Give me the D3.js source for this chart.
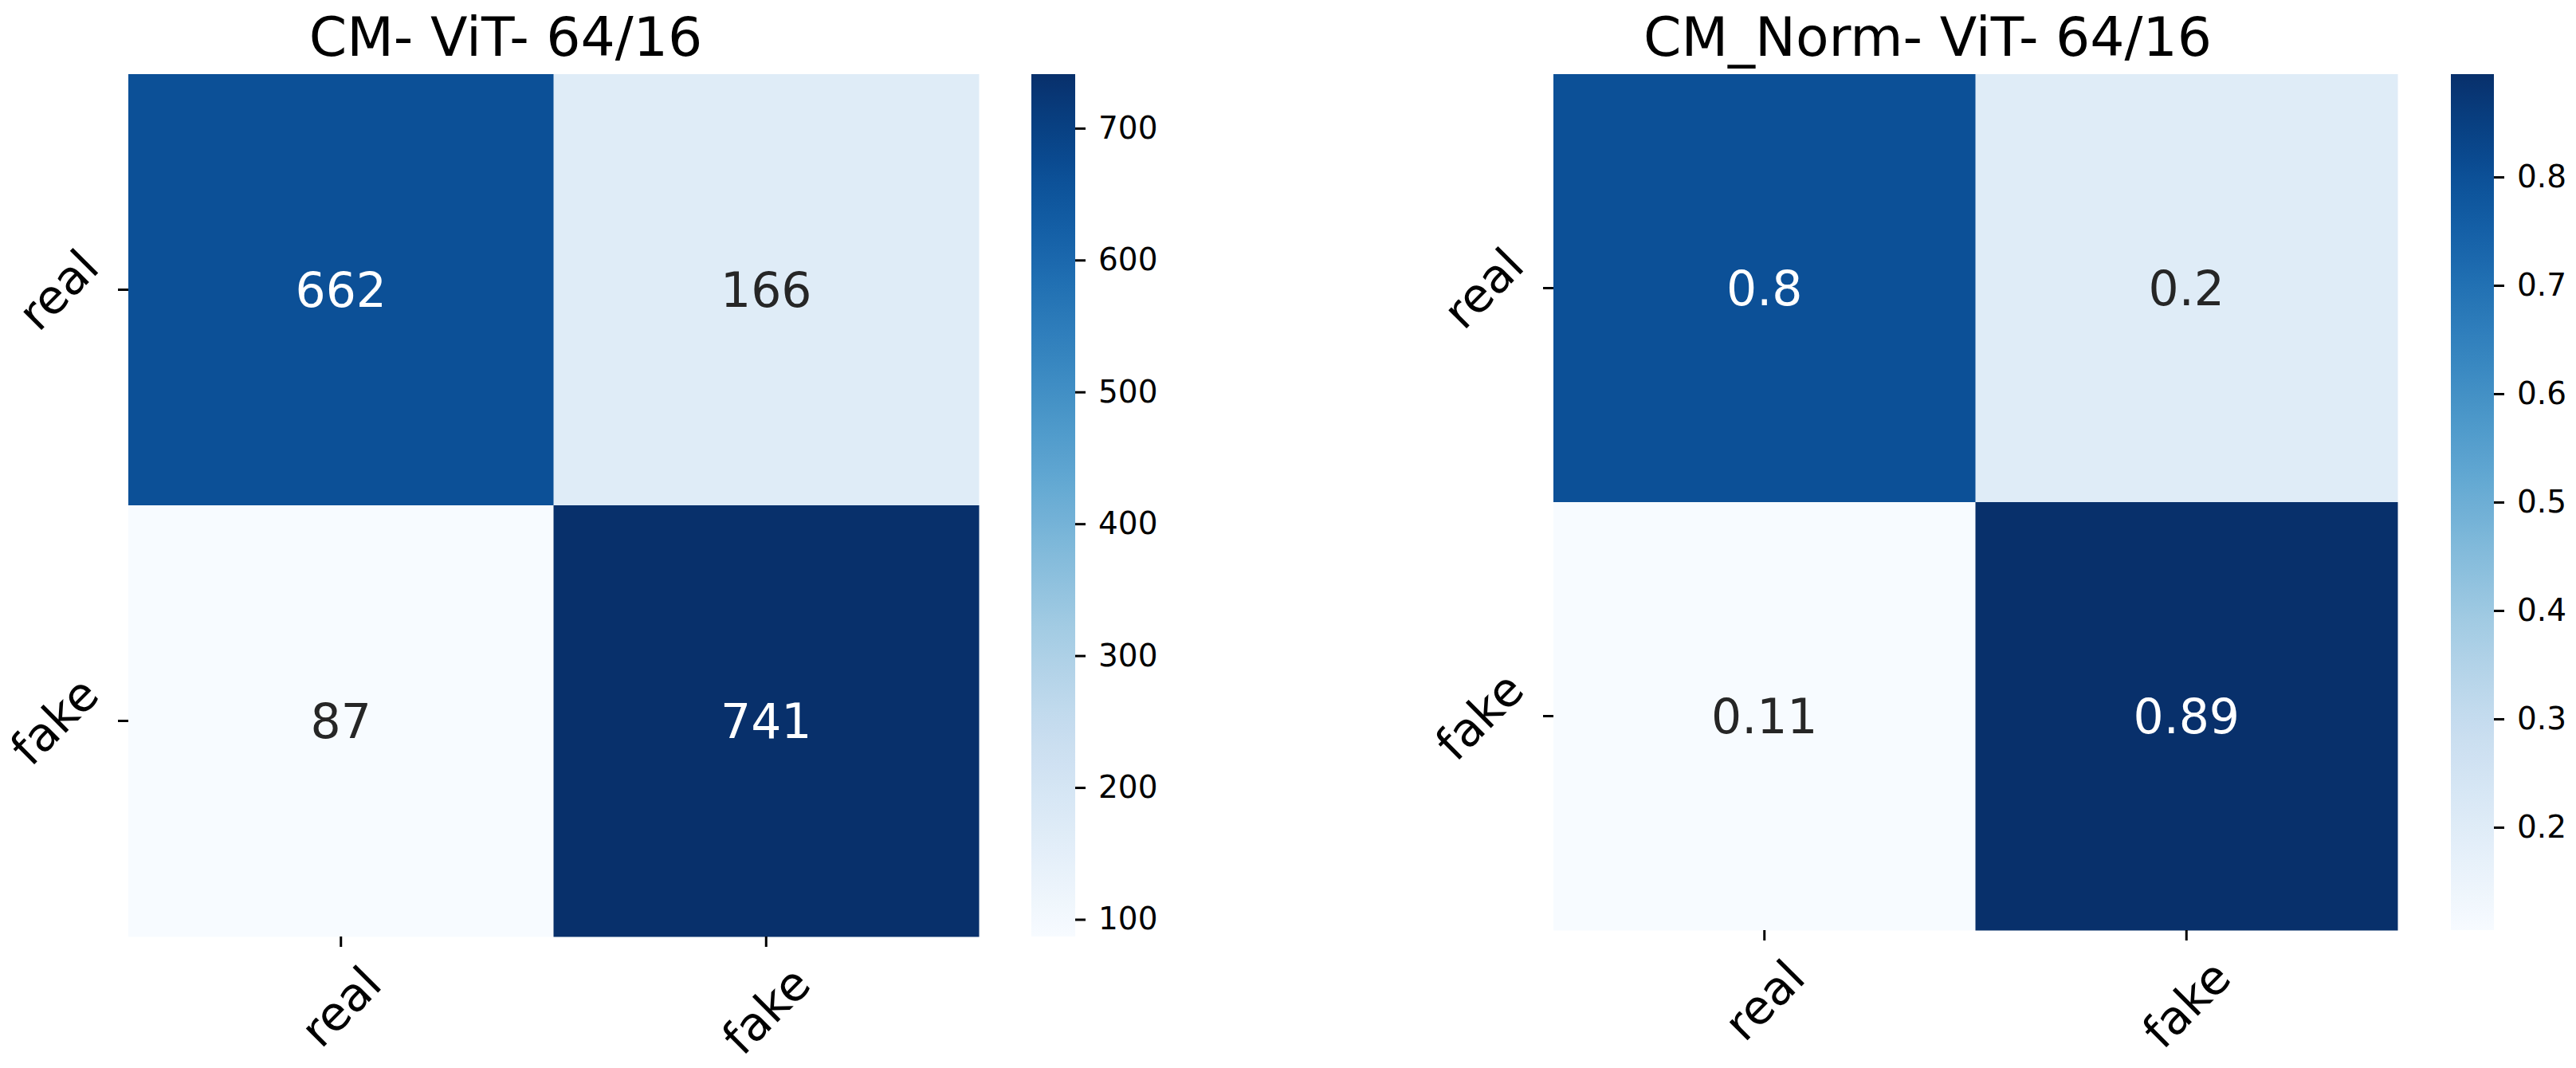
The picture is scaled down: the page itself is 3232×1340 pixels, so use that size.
<!DOCTYPE html>
<html>
<head>
<meta charset="utf-8">
<script src="https://cdn.jsdelivr.net/npm/d3@7"></script>
<style>
  html, body { margin: 0; padding: 0; background: #fff; }
  svg { display: block; }
  text { font-family: "DejaVu Sans", sans-serif; }
</style>
</head>
<body>
<svg id="chart" width="3232" height="1340"></svg>
<script>
// ---- data ----
const classLabels = ["real", "fake"];
const cmCounts = [[662, 166], [87, 741]];
const cmNorm = [[0.7995, 0.2005], [0.1051, 0.8949]];
const countTicks = [100, 200, 300, 400, 500, 600, 700];
const normTicks = [0.2, 0.3, 0.4, 0.5, 0.6, 0.7, 0.8];
const titles = ["CM- ViT- 64/16", "CM_Norm- ViT- 64/16"];

const svg = d3.select("#chart");
svg.append("rect").attr("width", 3232).attr("height", 1340).attr("fill", "#fff");

const panels = [
  { title: titles[0], matrix: cmCounts, ticks: countTicks, tickFmt: d3.format("d"), annFmt: d3.format("d"),
    hx: [161, 1228], hy: [93, 1175], cbx: [1294, 1349], id: "g0" },
  { title: titles[1], matrix: cmNorm, ticks: normTicks, tickFmt: d3.format(".1f"), annFmt: d3.format(".2"),
    hx: [1949, 3008], hy: [93, 1167], cbx: [3075, 3129], id: "g1" }
];

function lum(c) {
  const rgb = d3.rgb(c);
  const f = v => { v /= 255; return v <= 0.03928 ? v / 12.92 : Math.pow((v + 0.055) / 1.055, 2.4); };
  return 0.2126 * f(rgb.r) + 0.7152 * f(rgb.g) + 0.0722 * f(rgb.b);
}

panels.forEach(p => {
  const flat = p.matrix.flat();
  const vmin = d3.min(flat), vmax = d3.max(flat);
  const color = d3.scaleSequential(d3.interpolateBlues).domain([vmin, vmax]);

  const x = d3.scaleBand().domain(classLabels).range(p.hx);
  const y = d3.scaleBand().domain(classLabels).range(p.hy);

  const g = svg.append("g");

  const cells = [];
  p.matrix.forEach((row, i) => row.forEach((v, j) => cells.push({ r: classLabels[i], c: classLabels[j], v })));

  g.selectAll("rect.cell").data(cells).join("rect")
    .attr("class", "cell")
    .attr("x", d => x(d.c)).attr("y", d => y(d.r))
    .attr("width", x.bandwidth() + 0.5).attr("height", y.bandwidth() + 0.5)
    .attr("fill", d => color(d.v));

  g.selectAll("text.ann").data(cells).join("text")
    .attr("class", "ann")
    .attr("x", d => x(d.c) + x.bandwidth() / 2)
    .attr("y", d => y(d.r) + y.bandwidth() / 2)
    .attr("dy", "0.36em")
    .attr("text-anchor", "middle")
    .attr("font-size", 60)
    .attr("fill", d => lum(color(d.v)) > 0.408 ? "#262626" : "#ffffff")
    .text(d => p.annFmt(d.v));

  // title
  g.append("text")
    .attr("x", (p.hx[0] + p.hx[1]) / 2 - 60)
    .attr("y", 70)
    .attr("text-anchor", "middle")
    .attr("font-size", 68)
    .attr("fill", "#000")
    .text(p.title);

  const tickSize = 13, pad = 11;

  // x axis
  const xa = g.append("g").attr("transform", `translate(0,${p.hy[1]})`)
    .call(d3.axisBottom(x).tickSize(tickSize));
  xa.select(".domain").remove();
  xa.selectAll(".tick line").attr("stroke", "#000").attr("stroke-width", 3);
  xa.selectAll(".tick text")
    .attr("font-size", 59).attr("fill", "#000")
    .attr("x", 0).attr("y", 0).attr("dy", "0.35em")
    .attr("text-anchor", "middle")
    .each(function () {
      const bb = this.getBBox();
      const ext = (bb.width + bb.height) / Math.SQRT2;
      d3.select(this).attr("transform", `translate(0,${tickSize + pad + ext / 2}) rotate(-45)`);
    });

  // y axis
  const ya = g.append("g").attr("transform", `translate(${p.hx[0]},0)`)
    .call(d3.axisLeft(y).tickSize(tickSize));
  ya.select(".domain").remove();
  ya.selectAll(".tick line").attr("stroke", "#000").attr("stroke-width", 3);
  ya.selectAll(".tick text")
    .attr("font-size", 59).attr("fill", "#000")
    .attr("x", 0).attr("y", 0).attr("dy", "0.35em")
    .attr("text-anchor", "middle")
    .each(function () {
      const bb = this.getBBox();
      const ext = (bb.width + bb.height) / Math.SQRT2;
      d3.select(this).attr("transform", `translate(${-(tickSize + pad + ext / 2)},0) rotate(-45)`);
    });

  // colorbar
  const grad = svg.append("defs").append("linearGradient")
    .attr("id", "grad-" + p.id)
    .attr("x1", 0).attr("y1", 1).attr("x2", 0).attr("y2", 0);
  d3.range(0, 1.0001, 0.02).forEach(t => {
    grad.append("stop").attr("offset", t).attr("stop-color", color(vmin + t * (vmax - vmin)));
  });
  const cbScale = d3.scaleLinear().domain([vmin, vmax]).range([p.hy[1], p.hy[0]]);
  g.append("rect")
    .attr("x", p.cbx[0]).attr("y", p.hy[0])
    .attr("width", p.cbx[1] - p.cbx[0]).attr("height", p.hy[1] - p.hy[0])
    .attr("fill", `url(#grad-${p.id})`);
  const ca = g.append("g").attr("transform", `translate(${p.cbx[1]},0)`)
    .call(d3.axisRight(cbScale).tickValues(p.ticks).tickFormat(p.tickFmt).tickSize(13).tickPadding(16));
  ca.select(".domain").remove();
  ca.selectAll(".tick line").attr("stroke", "#000").attr("stroke-width", 3);
  ca.selectAll(".tick text").attr("font-size", 39).attr("fill", "#000");
});
</script>
</body>
</html>
